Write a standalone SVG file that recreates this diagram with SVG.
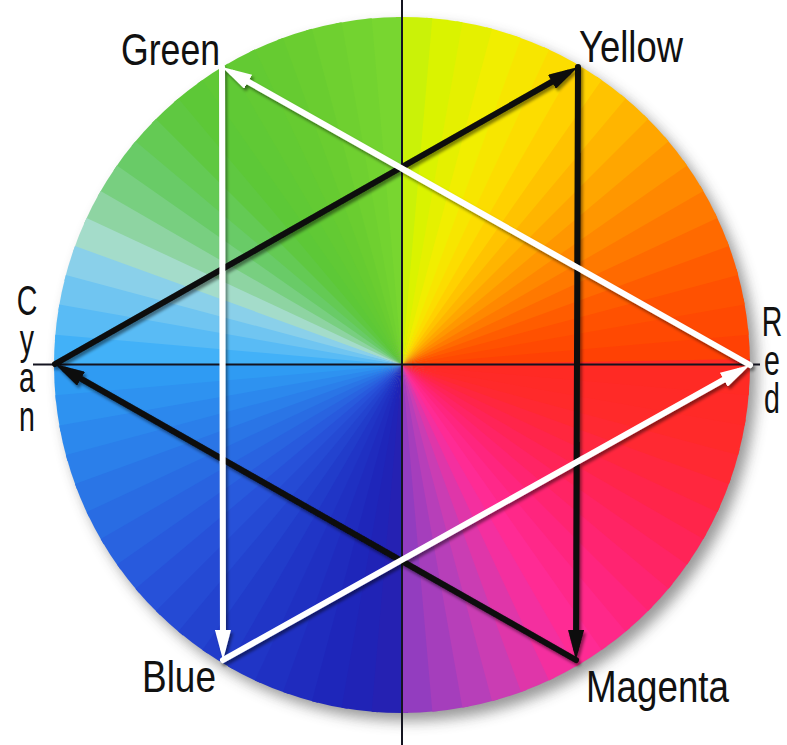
<svg xmlns="http://www.w3.org/2000/svg" xmlns:xlink="http://www.w3.org/1999/xlink" width="787" height="745" viewBox="0 0 787 745">
<style>
.lbl{font-family:"Liberation Sans",Arial,sans-serif;font-size:44px;fill:#111}
.vt{font-family:"Liberation Sans",Arial,sans-serif;font-size:42px;fill:#111;writing-mode:vertical-rl;text-orientation:upright;letter-spacing:-9px}
.ax{stroke:#141420;stroke-width:2;fill:none}
.wl{stroke:#ffffff;stroke-width:6;fill:none;stroke-linecap:round}
.bl{stroke:#0a0a0a;stroke-width:6;fill:none;stroke-linecap:round}
</style>
<defs>
<path id="w" d="M0 0 L348 0 A348 348 0 0 0 346.09 -36.38 Z"/>
<filter id="sh" x="-15%" y="-15%" width="130%" height="130%"><feGaussianBlur stdDeviation="7"/></filter>
<filter id="ds" x="-5%" y="-5%" width="110%" height="110%"><feDropShadow dx="2" dy="3" stdDeviation="1.5" flood-color="#000" flood-opacity="0.45"/></filter>
<marker id="aw" markerUnits="userSpaceOnUse" markerWidth="30" markerHeight="16" refX="18" refY="8" orient="auto"><path d="M0 0 L30 8 L0 16 Z" fill="#ffffff"/></marker>
<marker id="ab" markerUnits="userSpaceOnUse" markerWidth="30" markerHeight="16" refX="18" refY="8" orient="auto"><path d="M0 0 L30 8 L0 16 Z" fill="#0a0a0a"/></marker>
</defs>
<rect width="787" height="745" fill="#ffffff"/>
<g id="wheel">
<circle cx="409" cy="373" r="348" fill="#444" opacity="0.55" filter="url(#sh)"/>
<g transform="translate(402 365)">
<use xlink:href="#w" href="#w" fill="#ff4104"/>
<use href="#w" transform="rotate(-5)" fill="#ff4902"/>
<use href="#w" transform="rotate(-10)" fill="#ff5101"/>
<use href="#w" transform="rotate(-15)" fill="#ff5c00"/>
<use href="#w" transform="rotate(-20)" fill="#ff6a00"/>
<use href="#w" transform="rotate(-25)" fill="#ff7900"/>
<use href="#w" transform="rotate(-30)" fill="#ff8800"/>
<use href="#w" transform="rotate(-35)" fill="#ff9700"/>
<use href="#w" transform="rotate(-40)" fill="#ffa600"/>
<use href="#w" transform="rotate(-45)" fill="#ffb500"/>
<use href="#w" transform="rotate(-50)" fill="#ffc300"/>
<use href="#w" transform="rotate(-55)" fill="#ffd100"/>
<use href="#w" transform="rotate(-60)" fill="#fcdd00"/>
<use href="#w" transform="rotate(-65)" fill="#f7e600"/>
<use href="#w" transform="rotate(-70)" fill="#f1ee00"/>
<use href="#w" transform="rotate(-75)" fill="#e5f000"/>
<use href="#w" transform="rotate(-80)" fill="#daf300"/>
<use href="#w" transform="rotate(-85)" fill="#caf208"/>
<use href="#w" transform="rotate(-90)" fill="#78d630"/>
<use href="#w" transform="rotate(-95)" fill="#73d330"/>
<use href="#w" transform="rotate(-100)" fill="#6fd030"/>
<use href="#w" transform="rotate(-105)" fill="#6acd30"/>
<use href="#w" transform="rotate(-110)" fill="#66cb31"/>
<use href="#w" transform="rotate(-115)" fill="#63ca33"/>
<use href="#w" transform="rotate(-120)" fill="#60c935"/>
<use href="#w" transform="rotate(-125)" fill="#5dc837"/>
<use href="#w" transform="rotate(-130)" fill="#5fc841"/>
<use href="#w" transform="rotate(-135)" fill="#64ca54"/>
<use href="#w" transform="rotate(-140)" fill="#69cb67"/>
<use href="#w" transform="rotate(-145)" fill="#78cf80"/>
<use href="#w" transform="rotate(-150)" fill="#8ed4a2"/>
<use href="#w" transform="rotate(-155)" fill="#a4dcca"/>
<use href="#w" transform="rotate(-160)" fill="#8ad0ea"/>
<use href="#w" transform="rotate(-165)" fill="#70c5f1"/>
<use href="#w" transform="rotate(-170)" fill="#59bbf5"/>
<use href="#w" transform="rotate(-175)" fill="#42b1f8"/>
<use href="#w" transform="rotate(-180)" fill="#2f9bf3"/>
<use href="#w" transform="rotate(-185)" fill="#2e92f0"/>
<use href="#w" transform="rotate(-190)" fill="#2c88ed"/>
<use href="#w" transform="rotate(-195)" fill="#2b7fea"/>
<use href="#w" transform="rotate(-200)" fill="#2a75e6"/>
<use href="#w" transform="rotate(-205)" fill="#296ce3"/>
<use href="#w" transform="rotate(-210)" fill="#2963e0"/>
<use href="#w" transform="rotate(-215)" fill="#285add"/>
<use href="#w" transform="rotate(-220)" fill="#2751d9"/>
<use href="#w" transform="rotate(-225)" fill="#254ad4"/>
<use href="#w" transform="rotate(-230)" fill="#2343cf"/>
<use href="#w" transform="rotate(-235)" fill="#213cca"/>
<use href="#w" transform="rotate(-240)" fill="#2035c6"/>
<use href="#w" transform="rotate(-245)" fill="#1f30c2"/>
<use href="#w" transform="rotate(-250)" fill="#1f2bbe"/>
<use href="#w" transform="rotate(-255)" fill="#1e26ba"/>
<use href="#w" transform="rotate(-260)" fill="#2023b6"/>
<use href="#w" transform="rotate(-265)" fill="#2521b2"/>
<use href="#w" transform="rotate(-270)" fill="#933dbf"/>
<use href="#w" transform="rotate(-275)" fill="#a53ebc"/>
<use href="#w" transform="rotate(-280)" fill="#b73fb9"/>
<use href="#w" transform="rotate(-285)" fill="#ca3db3"/>
<use href="#w" transform="rotate(-290)" fill="#df36a9"/>
<use href="#w" transform="rotate(-295)" fill="#f42f9f"/>
<use href="#w" transform="rotate(-300)" fill="#ff2b94"/>
<use href="#w" transform="rotate(-305)" fill="#ff2889"/>
<use href="#w" transform="rotate(-310)" fill="#ff257e"/>
<use href="#w" transform="rotate(-315)" fill="#ff2471"/>
<use href="#w" transform="rotate(-320)" fill="#ff2464"/>
<use href="#w" transform="rotate(-325)" fill="#ff2457"/>
<use href="#w" transform="rotate(-330)" fill="#ff254a"/>
<use href="#w" transform="rotate(-335)" fill="#ff273e"/>
<use href="#w" transform="rotate(-340)" fill="#ff2932"/>
<use href="#w" transform="rotate(-345)" fill="#ff2a2a"/>
<use href="#w" transform="rotate(-350)" fill="#ff2a27"/>
<use href="#w" transform="rotate(-355)" fill="#ff2a24"/>
</g>
</g>
<g id="axes">
<line class="ax" x1="402" y1="0" x2="402" y2="745"/>
<line class="ax" x1="33" y1="364.5" x2="760" y2="364.5"/>
</g>
<g id="connectors" filter="url(#ds)">
<path class="bl" d="M55 364 L567.6 72.9" marker-end="url(#ab)"/>
<path class="bl" d="M578 67 L576 648" marker-end="url(#ab)"/>
<path class="bl" d="M576 660 L65.4 369.9" marker-end="url(#ab)"/>
<path class="wl" d="M222 67 L223 648" marker-end="url(#aw)"/>
<path class="wl" d="M223 660 L739.5 370.9" marker-end="url(#aw)"/>
<path class="wl" d="M750 365 L232.5 72.9" marker-end="url(#aw)"/>
</g>
<g id="node-green"><text class="lbl" x="121" y="65" textLength="99" lengthAdjust="spacingAndGlyphs">Green</text></g>
<g id="node-yellow"><text class="lbl" x="579" y="62" textLength="104" lengthAdjust="spacingAndGlyphs">Yellow</text></g>
<g id="node-blue"><text class="lbl" x="142" y="692" textLength="74" lengthAdjust="spacingAndGlyphs">Blue</text></g>
<g id="node-magenta"><text class="lbl" x="586" y="702" textLength="143" lengthAdjust="spacingAndGlyphs">Magenta</text></g>
<g id="node-cyan">
<text class="vt" transform="translate(27 0) scale(0.68 1)" x="0" y="276">Cyan</text>
</g>
<g id="node-red">
<text class="vt" transform="translate(772 0) scale(0.68 1)" x="0" y="297">Red</text>
</g>
</svg>
